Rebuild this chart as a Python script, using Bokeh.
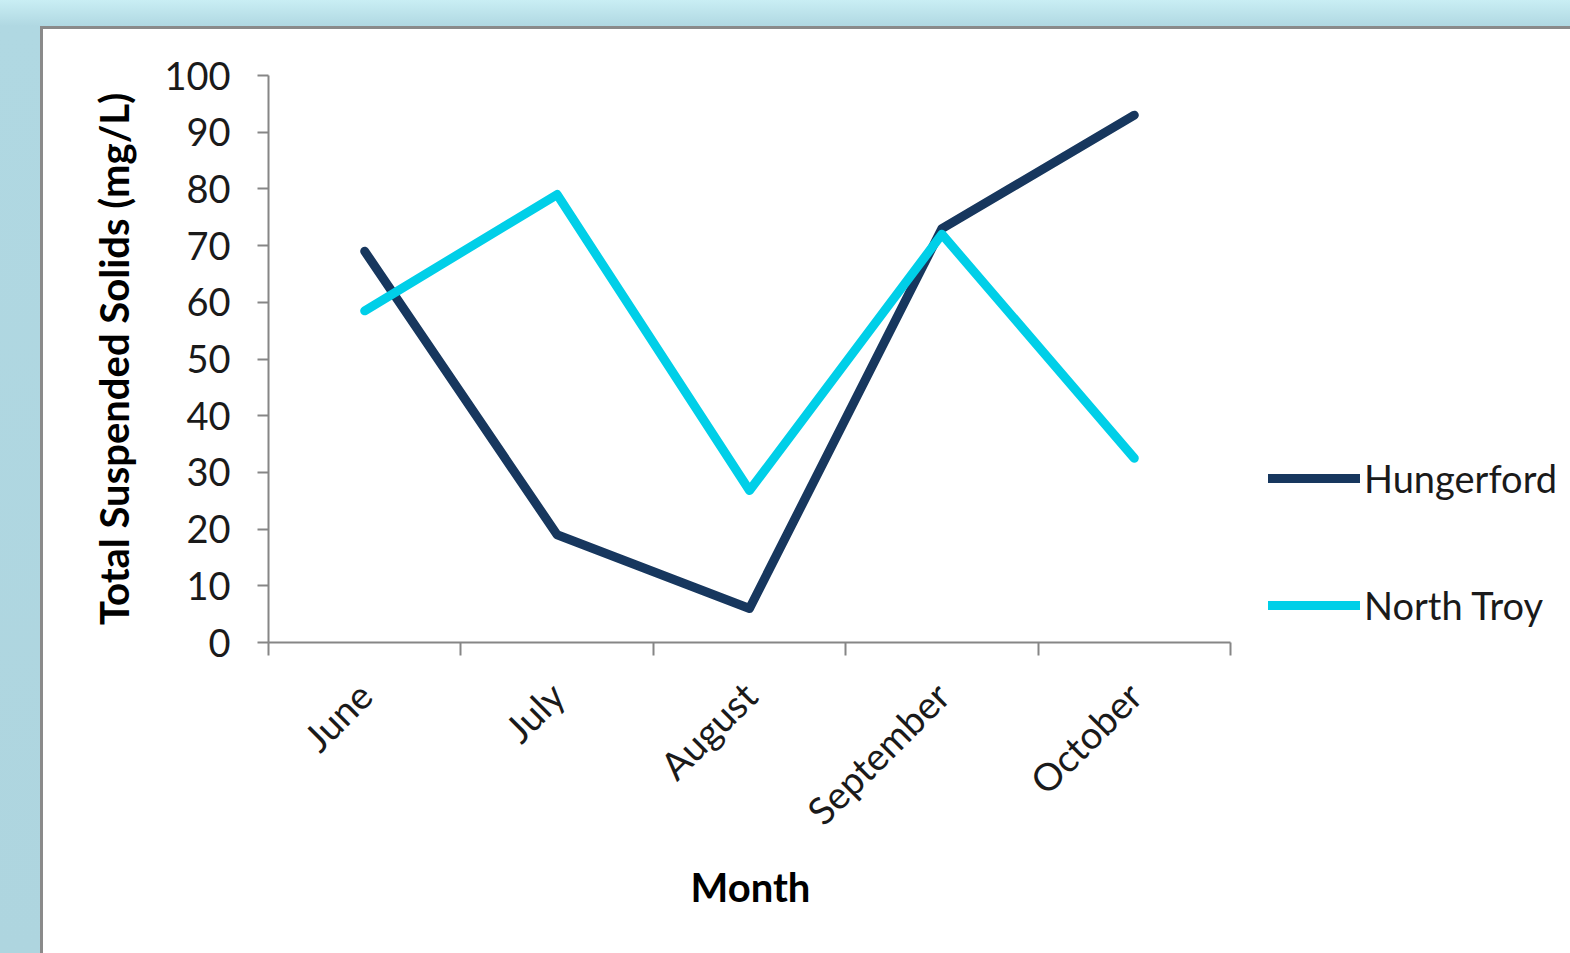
from bokeh.plotting import figure
from bokeh.models import (Range1d, FixedTicker, CustomJSTickFormatter, Legend, LegendItem,
                          ColumnDataSource, Title)
from bokeh.layouts import column
from bokeh.embed import file_html
from bokeh.resources import INLINE

# Monthly total suspended solids at two sampling sites
months = ["June", "July", "August", "September", "October"]
hungerford = [69, 19, 6, 73, 93]
north_troy = [58.5, 79, 26.8, 72, 32.5]
y_ticks = [0, 10, 20, 30, 40, 50, 60, 70, 80, 90, 100]

FONT = "Lato"
TEXT = "#1a1a1a"
AXIS = "#868686"
TICK_SIZE = "38px"
TITLE_SIZE = "40px"

# months sit in the middle of unit-wide slots; ticks mark the slot edges
x_pos = [i + 0.5 for i in range(len(months))]
src = ColumnDataSource(dict(x=x_pos, h=hungerford, n=north_troy))

# the frame runs to the right edge so the legend can sit beside the axes;
# the axis itself is bounded to the month slots
FIG_W, FIG_H = 1527, 924
LEFT, TOP, BOTTOM = 225, 46, 311
AXIS_PX = 962                      # drawn length of the x axis
x_end = len(months) * (FIG_W - LEFT) / AXIS_PX

p = figure(width=FIG_W, height=FIG_H, output_backend="svg", toolbar_location=None,
           x_range=Range1d(0, x_end), y_range=Range1d(0, 100),
           min_border_left=LEFT, min_border_right=0, min_border_top=TOP, min_border_bottom=BOTTOM)
p.outline_line_color = None
p.outline_line_alpha = 0
p.xgrid.visible = False
p.ygrid.visible = False
p.background_fill_color = None
p.border_fill_color = None

r_h = p.line("x", "h", source=src, line_color="#17375E", line_width=9,
             line_cap="round", line_join="round")
r_n = p.line("x", "n", source=src, line_color="#00CFE8", line_width=9,
             line_cap="round", line_join="round")

# y axis
ya = p.yaxis[0]
ya.ticker = FixedTicker(ticks=y_ticks)
ya.axis_line_color = AXIS
ya.axis_line_width = 2
ya.major_tick_line_color = AXIS
ya.major_tick_line_width = 2
ya.major_tick_out = 11
ya.major_tick_in = 0
ya.minor_tick_line_color = None
ya.major_label_text_font = FONT
ya.major_label_text_font_size = TICK_SIZE
ya.major_label_text_color = TEXT
ya.major_label_standoff = 27
ya.axis_label = "Total Suspended Solids (mg/L)"
ya.axis_label_text_font = FONT
ya.axis_label_text_font_style = "bold"
ya.axis_label_text_font_size = TITLE_SIZE
ya.axis_label_text_color = "#000000"
ya.axis_label_standoff = 23

# x axis: labels at slot centres, tick marks at slot edges
xa = p.xaxis[0]
xa.bounds = (0, len(months))
xa.ticker = FixedTicker(ticks=x_pos, minor_ticks=list(range(len(months) + 1)))
xa.formatter = CustomJSTickFormatter(args=dict(names=months),
                                     code="return names[Math.round(tick - 0.5)] || '';")
xa.axis_line_color = AXIS
xa.axis_line_width = 2
xa.major_tick_line_color = None
xa.major_tick_out = 13
xa.major_tick_in = 0
xa.minor_tick_line_color = AXIS
xa.minor_tick_line_width = 2
xa.minor_tick_out = 13
xa.minor_tick_in = 0
xa.major_label_orientation = 0.785398
xa.major_label_text_font = FONT
xa.major_label_text_font_size = TICK_SIZE
xa.major_label_text_color = TEXT
xa.major_label_standoff = 33

# x-axis title, placed under the middle of the bounded axis
month_title = Title(text="Month", align="left", offset=422,
                    text_font=FONT, text_font_style="bold", text_font_size=TITLE_SIZE,
                    text_color="#000000", standoff=16)
p.add_layout(month_title, "below")

legend = Legend(items=[LegendItem(label="Hungerford", renderers=[r_h]),
                       LegendItem(label="North Troy", renderers=[r_n])],
                location=(1000, 14), orientation="vertical",
                glyph_width=92, glyph_height=44, label_standoff=4, spacing=81,
                padding=0, margin=0, border_line_color=None, background_fill_alpha=0,
                label_text_font=FONT, label_text_font_size=TICK_SIZE,
                label_text_color=TEXT, label_height=44)
p.add_layout(legend, "center")

sheet = column(p, styles={"background-color": "white"})
edge = column(sheet, styles={"background-color": "#8a8a8a", "padding": "3px 0 0 3px"})
page = column(edge, styles={"background": "linear-gradient(180deg, #c9eef4 0px, #b0d8e2 26px, #aed5df 100%)",
                            "padding": "26px 0 0 40px"})

with open("out.html", "w") as f:
    f.write(file_html(page, INLINE))
